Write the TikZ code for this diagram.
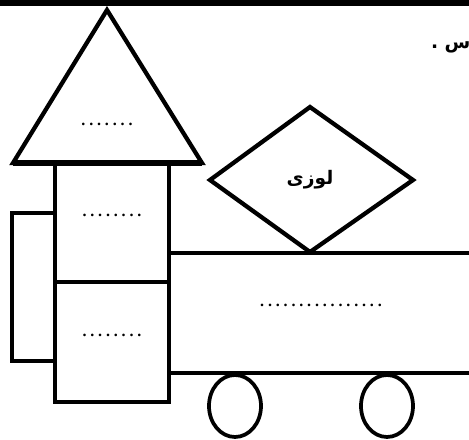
\documentclass[tikz,border=0pt]{standalone}
\usepackage{fontspec}
\TeXXeTstate=1
\newfontfamily\arabicfont[Script=Arabic]{DejaVu Sans}
\newfontfamily\dotfont[LetterSpace=24]{Liberation Serif}
\tikzset{
  blank/.style={font=\dotfont\bfseries\fontsize{12}{12}\selectfont, inner sep=0pt},
  farsi/.style={font=\arabicfont\bfseries\fontsize{14}{14}\selectfont, inner sep=0pt}
}
\begin{document}
\begin{tikzpicture}[x=0.75pt,y=-0.75pt,line width=3.2pt]
  \clip (0,0) rectangle (469,440);
  \draw[line width=3.8pt] (0,3) -- (469,3);
  % roof and tower
  \coordinate (T) at (107,10); \coordinate (L) at (13,163); \coordinate (R) at (202,163);
  \draw (T) -- (L) -- (R) -- cycle;
  \draw[line width=4.2pt] (L) -- (R);
  \draw (55,163) rectangle (169,282);
  \draw (55,282) rectangle (169,402);
  \draw (12,213) rectangle (55,361);
  % wagon
  \draw (169,253) rectangle (480,373);
  \coordinate (A) at (210,180); \coordinate (B) at (310,107);
  \coordinate (C) at (413,180); \coordinate (D) at (310,252);
  \draw (A) -- (B) -- (C) -- (D) -- cycle;
  \foreach \x in {235,387}
    \draw[line width=2.8pt] (\x,406) ellipse (26 and 31);
  % texts
  \node[blank] (roof) at (107,124) {.......};
  \node[blank] (upper) at (112,215) {........};
  \node[blank] (lower) at (112,335) {........};
  \node[blank] (wagon) at (321,305) {................};
  \node[farsi] (rhombus) at (310,180) {\beginR لوزی\endR};
  \node[farsi, anchor=west] (task) at (429,47) {\beginR س .\endR};
\end{tikzpicture}
\end{document}
